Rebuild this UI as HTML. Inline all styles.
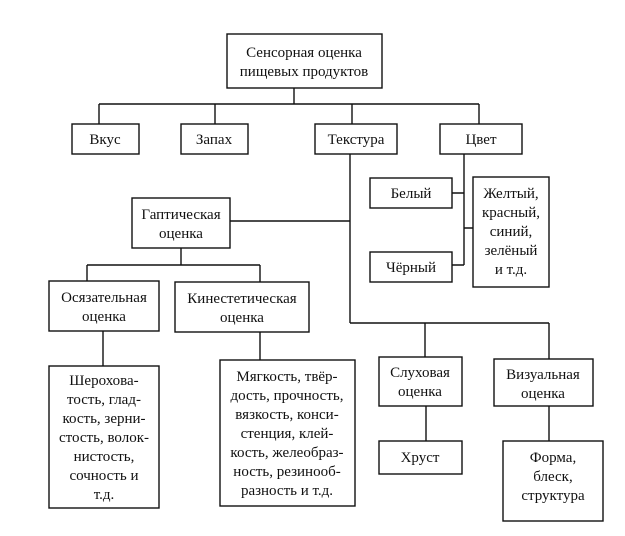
<!DOCTYPE html>
<html><head><meta charset="utf-8"><style>
html,body{margin:0;padding:0;background:#fff;}
svg{display:block;}
text{font-family:"Liberation Serif",serif;font-size:15px;fill:#111;text-anchor:middle;}
</style></head><body>
<svg width="625" height="536" viewBox="0 0 625 536" xmlns="http://www.w3.org/2000/svg">
<g fill="none" stroke="#111" stroke-width="1.4">
<rect x="227" y="34" width="155" height="54"/>
<rect x="72" y="124" width="67" height="30"/>
<rect x="181" y="124" width="67" height="30"/>
<rect x="315" y="124" width="82" height="30"/>
<rect x="440" y="124" width="82" height="30"/>
<rect x="132" y="198" width="98" height="50"/>
<rect x="370" y="178" width="82" height="30"/>
<rect x="370" y="252" width="82" height="30"/>
<rect x="473" y="177" width="76" height="110"/>
<rect x="49" y="281" width="110" height="50"/>
<rect x="175" y="282" width="134" height="50"/>
<rect x="49" y="366" width="110" height="142"/>
<rect x="220" y="360" width="135" height="146"/>
<rect x="379" y="357" width="83" height="49"/>
<rect x="494" y="359" width="99" height="47"/>
<rect x="379" y="441" width="83" height="33"/>
<rect x="503" y="441" width="100" height="80"/>
<path d="M294 88V104M99 104H479M99 104V124M215 104V124M352 104V124M479 104V124"/>
<path d="M350 154V323M230 221H350M350 323H549M425 323V357M549 323V359M426 406V441M549 406V441"/>
<path d="M181 248V265M87 265H260M87 265V281M260 265V282M103 331V366M260 332V360"/>
<path d="M464 154V265M452 193H464M452 265H464M464 228H473"/>
</g>
<text x="304" y="57">Сенсорная оценка</text>
<text x="304" y="76">пищевых продуктов</text>
<text x="105" y="144">Вкус</text>
<text x="214" y="144">Запах</text>
<text x="356" y="144">Текстура</text>
<text x="481" y="144">Цвет</text>
<text x="181" y="219">Гаптическая</text>
<text x="181" y="238">оценка</text>
<text x="411" y="198">Белый</text>
<text x="411" y="272">Чёрный</text>
<text x="511" y="198">Желтый,</text>
<text x="511" y="217">красный,</text>
<text x="511" y="236">синий,</text>
<text x="511" y="255">зелёный</text>
<text x="511" y="274">и т.д.</text>
<text x="104" y="302">Осязательная</text>
<text x="104" y="321">оценка</text>
<text x="242" y="303">Кинестетическая</text>
<text x="242" y="322">оценка</text>
<text x="104" y="385">Шерохова-</text>
<text x="104" y="404">тость, глад-</text>
<text x="104" y="423">кость, зерни-</text>
<text x="104" y="442">стость, волок-</text>
<text x="104" y="461">нистость,</text>
<text x="104" y="480">сочность и</text>
<text x="104" y="499">т.д.</text>
<text x="287" y="381">Мягкость, твёр-</text>
<text x="287" y="400">дость, прочность,</text>
<text x="287" y="419">вязкость, конси-</text>
<text x="287" y="438">стенция, клей-</text>
<text x="287" y="457">кость, желеобраз-</text>
<text x="287" y="476">ность, резинооб-</text>
<text x="287" y="495">разность и т.д.</text>
<text x="420" y="377">Слуховая</text>
<text x="420" y="396">оценка</text>
<text x="543" y="379">Визуальная</text>
<text x="543" y="398">оценка</text>
<text x="420" y="462">Хруст</text>
<text x="553" y="462">Форма,</text>
<text x="553" y="481">блеск,</text>
<text x="553" y="500">структура</text>
</svg>
</body></html>
